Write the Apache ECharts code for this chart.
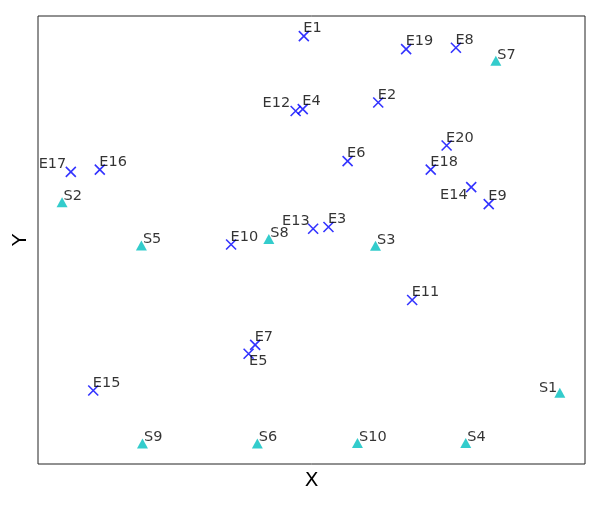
<!DOCTYPE html>
<html>
<head>
<meta charset="utf-8">
<script src="https://cdn.jsdelivr.net/npm/echarts@6/dist/echarts.min.js"></script>
<style>
  html, body { margin: 0; padding: 0; background: #fff; }
  #chart { width: 599px; height: 507px; }
</style>
</head>
<body>
<div id="chart"></div>
<script>
// E points (blue crosses)
const eNames = ['E1', 'E2', 'E3', 'E4', 'E5', 'E6', 'E7', 'E8', 'E9', 'E10',
                'E11', 'E12', 'E13', 'E14', 'E15', 'E16', 'E17', 'E18', 'E19', 'E20'];
const eX = [48.6, 62.2, 53.1, 48.4, 38.5, 56.6, 39.7, 76.4, 82.4, 35.3,
            68.4, 47.1, 50.3, 79.2, 10.1, 11.3, 6.0, 71.8, 67.3, 74.7];
const eY = [95.5, 80.7, 52.9, 79.2, 24.6, 67.6, 26.6, 92.9, 58.0, 49.0,
            36.6, 78.8, 52.5, 61.8, 16.4, 65.7, 65.2, 65.7, 92.6, 71.1];

// S points (cyan triangles)
const sNames = ['S1', 'S2', 'S3', 'S4', 'S5', 'S6', 'S7', 'S8', 'S9', 'S10'];
const sX = [95.4, 4.4, 61.7, 78.2, 18.9, 40.1, 83.7, 42.2, 19.1, 58.4];
const sY = [15.9, 58.4, 48.7, 4.7, 48.8, 4.6, 90.0, 50.2, 4.6, 4.7];

// label placement overrides (layout only)
const labelSpots = {
  E12: { position: [2, 7], align: 'right', verticalAlign: 'bottom' },
  E17: { position: [3, 7], align: 'right', verticalAlign: 'bottom' },
  E13: { position: [4, 7], align: 'right', verticalAlign: 'bottom' },
  E14: { position: [4, 9], align: 'right', verticalAlign: 'top' },
  E5:  { position: [8, 8], align: 'left', verticalAlign: 'top' },
  S1:  { position: [3, 7], align: 'right', verticalAlign: 'bottom' }
};

function buildPoints(names, xs, ys, defaultPos) {
  return names.map(function (n, i) {
    const spot = labelSpots[n] || { position: defaultPos, align: 'left', verticalAlign: 'bottom' };
    return {
      name: n,
      value: [xs[i], ys[i]],
      label: spot
    };
  });
}

const labelFont = {
  show: true,
  formatter: '{b}',
  color: '#000',
  fontFamily: 'DejaVu Sans',
  fontSize: 14.5,
  lineHeight: 14
};

const chart = echarts.init(document.getElementById('chart'));
chart.setOption({
  animation: false,
  backgroundColor: '#fff',
  grid: {
    left: 38, right: 14, top: 16, bottom: 43,
    outerBoundsMode: 'none',
    containLabel: false,
    show: true,
    borderColor: '#222',
    borderWidth: 1,
    backgroundColor: '#fff'
  },
  xAxis: {
    type: 'value',
    min: 0, max: 100,
    name: 'X',
    nameLocation: 'middle',
    nameGap: 7,
    nameTextStyle: { fontFamily: 'DejaVu Sans', fontSize: 20, color: '#000' },
    axisLine: { show: false },
    axisTick: { show: false },
    axisLabel: { show: false },
    splitLine: { show: false }
  },
  yAxis: {
    type: 'value',
    min: 0, max: 100,
    name: 'Y',
    nameLocation: 'middle',
    nameGap: 7,
    nameTextStyle: { fontFamily: 'DejaVu Sans', fontSize: 20, color: '#000' },
    axisLine: { show: false },
    axisTick: { show: false },
    axisLabel: { show: false },
    splitLine: { show: false }
  },
  series: [
    {
      name: 'E',
      type: 'scatter',
      symbol: 'path://M0,0L10,10M10,0L0,10',
      symbolSize: 10,
      itemStyle: { color: 'none', borderColor: '#0000ff', borderWidth: 1.6 },
      label: labelFont,
      data: buildPoints(eNames, eX, eY, [7, 7])
    },
    {
      name: 'S',
      type: 'scatter',
      symbol: 'triangle',
      symbolSize: [11, 10],
      itemStyle: { color: '#00bfbf' },
      label: labelFont,
      data: buildPoints(sNames, sX, sY, [7, 6])
    }
  ]
});
</script>
</body>
</html>
